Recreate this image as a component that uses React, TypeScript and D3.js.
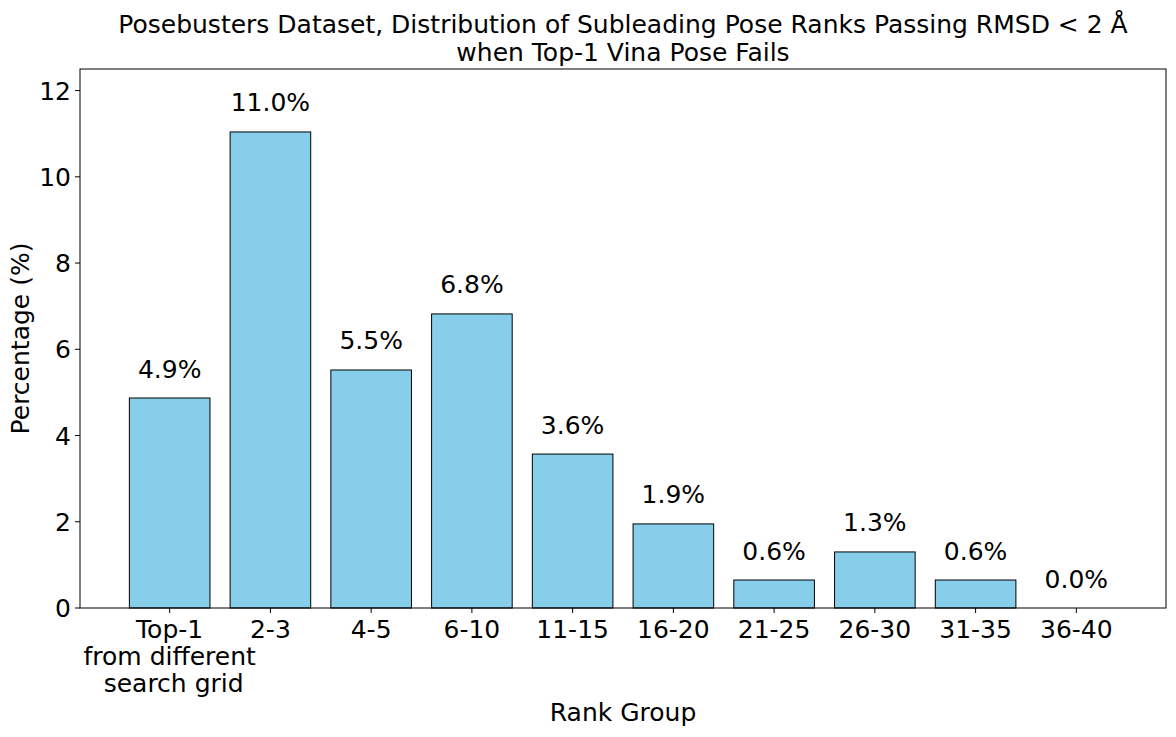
import React from "react";
import * as d3 from "d3";

const categories: string[][] = [
  ["Top-1", "from different", " search grid"],
  ["2-3"], ["4-5"], ["6-10"], ["11-15"], ["16-20"], ["21-25"], ["26-30"], ["31-35"], ["36-40"],
];
const percentages: number[] = [4.87, 11.04, 5.52, 6.82, 3.57, 1.95, 0.649, 1.3, 0.649, 0.0];
const yTicks: number[] = [0, 2, 4, 6, 8, 10, 12];
const titleLines: string[] = [
  "Posebusters Dataset, Distribution of Subleading Pose Ranks Passing RMSD < 2 Å",
  "when Top-1 Vina Pose Fails",
];

const W = 1176, H = 737;
const M = { left: 80, right: 1166, top: 69, bottom: 608 };
const FONT = "DejaVu Sans, sans-serif";
const FS = 25;

export default function App() {
  const n = categories.length;
  const x = d3.scaleLinear().domain([-0.4 - 0.49, n - 1 + 0.4 + 0.49]).range([M.left, M.right]);
  const y = d3.scaleLinear().domain([0, 12.5]).range([M.bottom, M.top]);
  const bw = x(0.8) - x(0);
  return (
    <svg width={W} height={H} style={{ position: "absolute", left: 0, top: 0, background: "#fff" }}
      fontFamily={FONT}>
      <rect x={0} y={0} width={W} height={H} fill="#fff" />
      {titleLines.map((t, i) => (
        <text key={i} x={(M.left + M.right) / 2} y={33 + i * 28} textAnchor="middle" fontSize={FS} fill="#000">{t}</text>
      ))}
      {percentages.map((v, i) => (
        <rect key={i} x={x(i) - bw / 2} y={y(v)} width={bw} height={y(0) - y(v)}
          fill="#87CEEB" stroke="#000" strokeWidth={1} />
      ))}
      {percentages.map((v, i) => (
        <text key={"l" + i} x={x(i)} y={y(v) - 20.5} textAnchor="middle" fontSize={FS} fill="#000">
          {v.toFixed(1) + "%"}
        </text>
      ))}
      <rect x={M.left} y={M.top} width={M.right - M.left} height={M.bottom - M.top} fill="none" stroke="#000" strokeWidth={1} />
      {yTicks.map((t) => (
        <g key={"y" + t}>
          <line x1={M.left - 5} x2={M.left} y1={y(t)} y2={y(t)} stroke="#000" />
          <text x={M.left - 9} y={y(t)} dy="0.36em" textAnchor="end" fontSize={FS} fill="#000">{t}</text>
        </g>
      ))}
      {categories.map((lines, i) => (
        <g key={"x" + i}>
          <line x1={x(i)} x2={x(i)} y1={M.bottom} y2={M.bottom + 5} stroke="#000" />
          {lines.map((ln, j) => (
            <text key={j} x={x(i)} y={638 + j * 27} textAnchor="middle" fontSize={FS} fill="#000"
              style={{ whiteSpace: "pre" }}>{ln}</text>
          ))}
        </g>
      ))}
      <text x={(M.left + M.right) / 2} y={721} textAnchor="middle" fontSize={FS} fill="#000">Rank Group</text>
      <text transform={`translate(29, ${(M.top + M.bottom) / 2}) rotate(-90)`} textAnchor="middle" fontSize={FS} fill="#000">Percentage (%)</text>
    </svg>
  );
}
